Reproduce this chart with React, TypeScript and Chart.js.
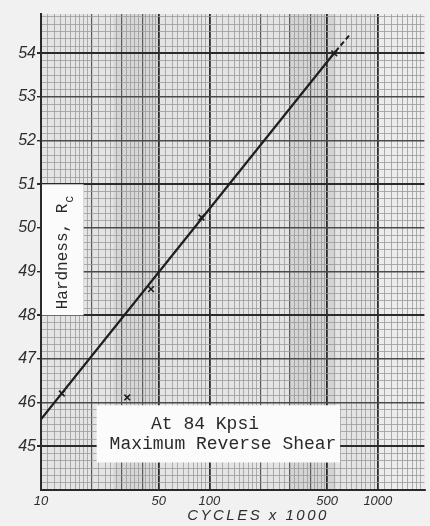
import React, { useEffect, useRef } from 'react';
import { Chart, registerables } from 'chart.js';
Chart.register(...registerables);

// ---- data ----
const fitCycles = [10, 560];
const fitHardness = [45.62, 54.04];
const extCycles = [560, 680];
const extHardness = [54.04, 54.42];
const testCycles = [13.3, 32.5, 45, 89.7, 551];
const testHardness = [46.21, 46.12, 48.6, 50.24, 54.0];
const xTickLabels = [10, 50, 100, 500, 1000];
const yTickLabels = [45, 46, 47, 48, 49, 50, 51, 52, 53, 54];
const yHeavy = [45, 48, 51, 54];
const xMedium = [20, 30, 40, 200, 300, 400];
const xTitle = 'CYCLES x 1000';
const yTitle = 'Hardness, R';
const ySub = 'c';
const noteLines = ['At 84 Kpsi', 'Maximum Reverse Shear'];

const X_MIN = 10, X_MAX = 1890, Y_MIN = 44, Y_MAX = 54.9;

// graph-paper rulings
const xSegments: [number, number, number][] = [
  [10, 20, 1], [20, 50, 2], [50, 100, 5], [100, 200, 10],
  [200, 500, 20], [500, 1000, 50], [1000, 1890, 100],
];
const xGrid: number[] = [];
xSegments.forEach(([a, b, s]) => {
  for (let v = a; v < b - 1e-9; v += s) xGrid.push(Math.round(v * 1000) / 1000);
});
const yGrid: number[] = [];
for (let k = 0; Y_MIN + k / 6 < Y_MAX - 1e-9; k++) yGrid.push(Y_MIN + k / 6);

const near = (v: number, arr: number[]) => arr.some((a) => Math.abs(a - v) < 1e-6);

const mono = '"Liberation Mono", "DejaVu Sans Mono", monospace';
const sans = '"Liberation Sans", "DejaVu Sans", sans-serif';

const bgPlugin = {
  id: 'paperBg',
  beforeDraw(chart: any) {
    const { ctx, chartArea: a, scales } = chart;
    ctx.save();
    ctx.fillStyle = '#f1f1f1';
    ctx.fillRect(0, 0, chart.width, chart.height);
    ctx.fillStyle = '#e4e4e4';
    ctx.fillRect(a.left, a.top, a.right - a.left, a.bottom - a.top);
    const x = scales.x;
    const band = (v1: number, v2: number, c: string) => {
      ctx.fillStyle = c;
      const p1 = x.getPixelForValue(v1), p2 = x.getPixelForValue(v2);
      ctx.fillRect(p1, a.top, p2 - p1, a.bottom - a.top);
    };
    band(27, 50, '#d6d6d6');
    band(300, 560, '#d4d4d4');
    band(1000, X_MAX, '#ececec');
    ctx.restore();
  },
};

const notesPlugin = {
  id: 'notes',
  beforeDatasetsDraw(chart: any) {
    const { ctx, scales } = chart;
    const x = scales.x, y = scales.y;
    ctx.save();
    // y-axis title box
    const b1l = x.getPixelForValue(10), b1r = x.getPixelForValue(17.9);
    const b1t = y.getPixelForValue(51), b1b = y.getPixelForValue(48);
    ctx.fillStyle = '#fbfbfb';
    ctx.fillRect(b1l + 1, b1t, b1r - b1l - 1, b1b - b1t);
    ctx.fillStyle = '#2a2a2a';
    ctx.translate(67, b1b - 6);
    ctx.rotate(-Math.PI / 2);
    ctx.font = `16px ${mono}`;
    ctx.textBaseline = 'alphabetic';
    ctx.textAlign = 'left';
    ctx.fillText(yTitle, 0, 0);
    const w = ctx.measureText(yTitle).width;
    ctx.font = `12px ${mono}`;
    ctx.fillText(ySub, w + 1, 6);
    ctx.setTransform(1, 0, 0, 1, 0, 0);
    // annotation box
    const b2l = x.getPixelForValue(21.4), b2r = x.getPixelForValue(597);
    const b2t = y.getPixelForValue(45.94), b2b = y.getPixelForValue(44.63);
    ctx.fillStyle = '#fbfbfb';
    ctx.fillRect(b2l, b2t, b2r - b2l, b2b - b2t);
    ctx.fillStyle = '#2a2a2a';
    ctx.font = `18px ${mono}`;
    ctx.textAlign = 'center';
    ctx.fillText(noteLines[0], 205, b2t + 24);
    ctx.fillText(noteLines[1], 223, b2t + 44);
    ctx.restore();
  },
  afterDraw(chart: any) {
    const { ctx } = chart;
    ctx.save();
    ctx.fillStyle = '#2e2e2e';
    ctx.font = `italic 15px ${sans}`;
    ctx.textAlign = 'center';
    ctx.textBaseline = 'middle';
    try { (ctx as any).letterSpacing = '2.5px'; } catch (e) { /* ignore */ }
    ctx.fillText(xTitle, 258, 516);
    ctx.restore();
  },
};

export default function App() {
  const ref = useRef<HTMLCanvasElement | null>(null);
  useEffect(() => {
    if (!ref.current) return;
    const chart = new Chart(ref.current, {
      type: 'scatter',
      data: {
        datasets: [
          {
            label: 'fit',
            data: fitCycles.map((c, i) => ({ x: c, y: fitHardness[i] })),
            showLine: true,
            borderColor: '#1e1e1e',
            borderWidth: 2.2,
            pointRadius: 0,
          },
          {
            label: 'extension',
            data: extCycles.map((c, i) => ({ x: c, y: extHardness[i] })),
            showLine: true,
            borderColor: '#1e1e1e',
            borderWidth: 2,
            borderDash: [5, 3],
            pointRadius: 0,
          },
          {
            label: 'tests',
            data: testCycles.map((c, i) => ({ x: c, y: testHardness[i] })),
            pointStyle: 'crossRot',
            pointRadius: 4,
            borderColor: '#1e1e1e',
            borderWidth: 1.6,
            backgroundColor: '#1e1e1e',
          },
        ],
      },
      options: {
        responsive: false,
        animation: false,
        devicePixelRatio: 1,
        layout: { padding: { left: 0, right: 2, top: 14, bottom: 0 } },
        plugins: { legend: { display: false }, tooltip: { enabled: false }, title: { display: false } },
        scales: {
          x: {
            type: 'logarithmic',
            min: X_MIN,
            max: X_MAX,
            afterBuildTicks: (s: any) => { s.ticks = xGrid.map((v) => ({ value: v })); },
            afterFit: (s: any) => { s.height = 36; },
            ticks: {
              autoSkip: false,
              maxRotation: 0,
              padding: 4,
              color: '#2e2e2e',
              font: { family: sans, size: 13, style: 'italic' },
              callback: (v: any) => (near(Number(v), xTickLabels) ? String(v) : ''),
            },
            grid: {
              drawTicks: false,
              color: (c: any) => {
                const v = c.tick?.value;
                if (near(v, xTickLabels)) return '#2a2a2a';
                if (near(v, xMedium)) return '#5a5a5a';
                return '#9a9a9a';
              },
              lineWidth: (c: any) => {
                const v = c.tick?.value;
                if (near(v, xTickLabels)) return 1.8;
                if (near(v, xMedium)) return 1.2;
                return 0.8;
              },
            },
            border: { display: true, color: '#2a2a2a', width: 2 },
            title: { display: false },
          },
          y: {
            type: 'linear',
            min: Y_MIN,
            max: Y_MAX,
            afterBuildTicks: (s: any) => { s.ticks = yGrid.map((v) => ({ value: v })); },
            afterFit: (s: any) => { s.width = 41; },
            ticks: {
              autoSkip: false,
              padding: 1,
              color: '#2e2e2e',
              font: { family: sans, size: 16, style: 'italic' },
              callback: (v: any) => {
                const n = Number(v);
                return near(n, yTickLabels) ? String(Math.round(n)) : '';
              },
            },
            grid: {
              drawTicks: true,
              tickLength: 4,
              tickColor: (c: any) => (near(c.tick?.value, yTickLabels) ? '#2a2a2a' : 'rgba(0,0,0,0)'),
              color: (c: any) => {
                const v = c.tick?.value;
                if (near(v, yHeavy)) return '#2a2a2a';
                if (near(v, yTickLabels)) return '#4a4a4a';
                return '#9a9a9a';
              },
              lineWidth: (c: any) => {
                const v = c.tick?.value;
                if (near(v, yHeavy)) return 2;
                if (near(v, yTickLabels)) return 1.4;
                return 0.8;
              },
            },
            border: { display: true, color: '#2a2a2a', width: 2 },
          },
        },
      },
      plugins: [bgPlugin, notesPlugin],
    });
    return () => chart.destroy();
  }, []);
  return (
    <div style={{ position: 'fixed', left: 0, top: 0, width: 430, height: 526 }}>
      <canvas ref={ref} width={430} height={526} />
    </div>
  );
}
